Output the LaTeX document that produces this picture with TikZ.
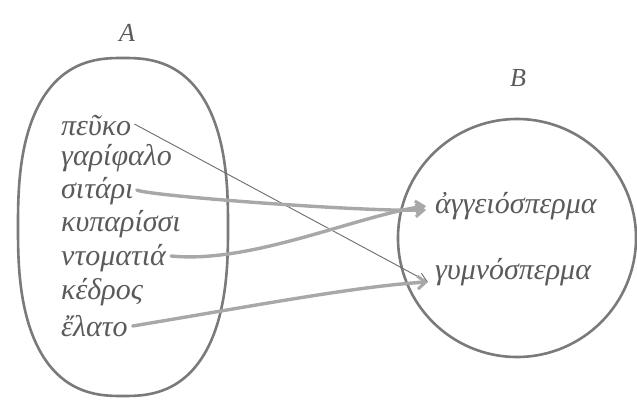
\documentclass[tikz,border=0pt]{standalone}
\usepackage{fontspec}
\setmainfont{Liberation Serif}
\usetikzlibrary{arrows.meta}
\definecolor{ink}{HTML}{5A5A5A}
\definecolor{shape}{HTML}{7A7A7A}
\definecolor{pencil}{HTML}{A8A8A8}
\begin{document}
\begin{tikzpicture}[x=1pt,y=-1pt,
  word/.style={anchor=west,inner sep=1pt,text=ink,font=\fontsize{30}{34}\selectfont\itshape},
  setlabel/.style={text=ink,font=\fontsize{26}{30}\selectfont\itshape},
  setline/.style={draw=shape,line width=2.6pt},
  thinarrow/.style={draw=ink!90,line width=0.9pt,-{Straight Barb[length=9pt,width=9pt]}},
  pencilarrow/.style={draw=pencil,line width=3.4pt,line cap=round,-{Straight Barb[length=8pt,width=13pt,line width=3pt]}}
]
\useasboundingbox (0,0) rectangle (637,403);
% sets
\draw[setline] plot[domain=0:360,samples=180,smooth cycle]
  ({123+105*sign(cos(\x))*pow(abs(cos(\x)),0.78)},{227+169*sign(sin(\x))*pow(abs(sin(\x)),0.78)});
\draw[setline] (517,238) circle [radius=119];
\node[setlabel] (A) at (127,33) {A};
\node[setlabel] (B) at (518,78) {B};
% elements of A
\node[word] (p1) at (60,126) {πεῦκο};
\node[word] (p2) at (60,158) {γαρίφαλο};
\node[word] (p3) at (60,191) {σιτάρι};
\node[word] (p4) at (60,224) {κυπαρίσσι};
\node[word] (p5) at (60,258) {ντοματιά};
\node[word] (p6) at (60,292) {κέδρος};
\node[word] (p7) at (60,326) {ἔλατο};
% elements of B
\node[word] (b1) at (434,206) {ἀγγειόσπερμα};
\node[word] (b2) at (434,272) {γυμνόσπερμα};
% connectors
\draw[thinarrow] ([xshift=2pt,yshift=2pt]p1.east) -- ([xshift=-6pt,yshift=-10pt]b2.west);
\draw[pencilarrow] ([xshift=2pt,yshift=1pt]p3.east) .. controls +(12,6) and +(-60,2) .. ([xshift=-8pt,yshift=-4pt]b1.west);
\draw[pencilarrow] ([xshift=4pt,yshift=2pt]p5.east) .. controls +(80,8) and +(-70,10) .. ([xshift=-8pt,yshift=0pt]b1.west);
\draw[pencilarrow] ([xshift=4pt,yshift=0pt]p7.east) .. controls +(120,-20) and +(-70,4) .. ([xshift=-6pt,yshift=-10pt]b2.west);
\end{tikzpicture}
\end{document}
